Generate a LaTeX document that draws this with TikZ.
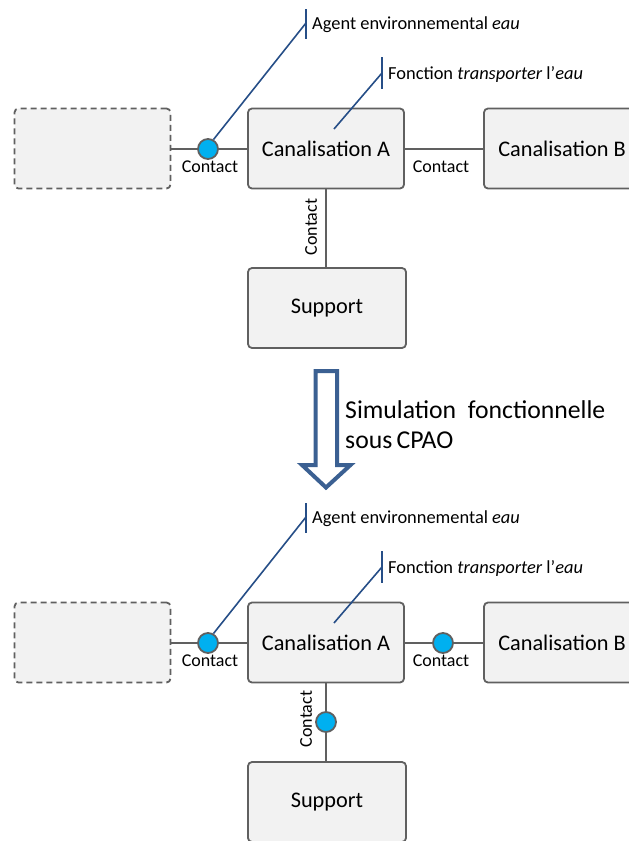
\documentclass[tikz,border=0pt]{standalone}
\usepackage{fontspec}
\setmainfont{Carlito}
\definecolor{boxfill}{RGB}{242,242,242}
\definecolor{boxline}{RGB}{96,96,96}
\definecolor{contactblue}{RGB}{0,176,240}
\definecolor{callout}{RGB}{38,78,135}
\definecolor{arrowblue}{RGB}{59,96,146}
\tikzset{
  blk/.style={draw=boxline, fill=boxfill, line width=1.8pt, rounded corners=4pt, minimum width=156pt, minimum height=80pt, font=\fontsize{22.3}{26}\selectfont, inner sep=0pt},
  ghost/.style={blk, dashed, dash pattern=on 6pt off 4pt},
  link/.style={draw=boxline, line width=1.8pt},
  dot/.style={circle, draw=boxline, fill=contactblue, line width=1.8pt, minimum size=20pt, inner sep=0pt},
  lbl/.style={font=\fontsize{18}{21}\selectfont, inner sep=0pt},
  call/.style={draw=callout, line width=1.6pt},
  calltext/.style={font=\fontsize{18.4}{21}\selectfont, inner sep=0pt, anchor=base west},
}
\begin{document}
\begin{tikzpicture}[x=1pt,y=-1pt]
\useasboundingbox (0,0) rectangle (629,841);
\clip (0,0) rectangle (629,841);
% ===== top =====
\node[ghost] (g1) at (92.5,148.5) {};
\node[blk] (a1) at (326,148.5) {Canalisation A};
\node[blk] (b1) at (562,148.5) {Canalisation B};
\node[blk, minimum width=158pt] (s1) at (327,308) {Support};
\draw[link] (g1.east |- 0,149) -- (a1.west |- 0,149);
\draw[link] (a1.east |- 0,149) -- (b1.west |- 0,149);
\draw[link] (a1.south -| 326,0) -- (s1.north -| 326,0);
\node[dot] (c1) at (208,149) {};
\node[lbl] (l1) at (210,167) {Contact};
\node[lbl] (l2) at (441,167) {Contact};
\node[lbl, rotate=90] (l3) at (311,227) {Contact};
% callouts
\coordinate (k1) at (306,23);
\coordinate (k1t) at (306,9);
\coordinate (k1b) at (306,39);
\draw[call] (c1.60) -- (k1);
\draw[call] (k1t) -- (k1b);
\node[calltext] (t1) at (312,29) {Agent environnemental \textit{eau}};
\coordinate (f1s) at (334,129);
\coordinate (f1) at (382,73);
\coordinate (f1t) at (382,57);
\coordinate (f1b) at (382,89);
\draw[call] (f1s) -- (f1);
\draw[call] (f1t) -- (f1b);
\node[calltext] (t2) at (388,79) {Fonction \textit{transporter} l’\textit{eau}};
% ===== arrow =====
\draw[draw=arrowblue, fill=white, line width=4pt, line join=miter]
  (315.5,371) -- (337,371) -- (337,465) -- (350.5,465) -- (326,487.5) -- (302,465) -- (315.5,465) -- cycle;
\node[font=\fontsize{25.7}{30}\selectfont, anchor=base west, align=left, inner sep=0pt] (sim) at (345,418) {Simulation\ \ fonctionnelle};
\node[font=\fontsize{25.7}{30}\selectfont, anchor=base west, align=left, inner sep=0pt] (sim2) at (345,448) {sous\,CPAO};
% ===== bottom =====
\node[ghost] (g2) at (92.5,642.5) {};
\node[blk] (a2) at (326,642.5) {Canalisation A};
\node[blk] (b2) at (562,642.5) {Canalisation B};
\node[blk, minimum width=158pt] (s2) at (327,802) {Support};
\draw[link] (g2.east |- 0,643) -- (a2.west |- 0,643);
\draw[link] (a2.east |- 0,643) -- (b2.west |- 0,643);
\draw[link] (a2.south -| 326,0) -- (s2.north -| 326,0);
\node[dot] (c2) at (208,643) {};
\node[dot] (c3) at (443,643) {};
\node[dot] (c4) at (326,722) {};
\node[lbl] (l4) at (210,661) {Contact};
\node[lbl] (l5) at (441,661) {Contact};
\node[lbl, rotate=90] (l6) at (306,719) {Contact};
\coordinate (k2) at (306,517);
\coordinate (k2t) at (306,503);
\coordinate (k2b) at (306,533);
\draw[call] (c2.60) -- (k2);
\draw[call] (k2t) -- (k2b);
\node[calltext] (t3) at (312,523) {Agent environnemental \textit{eau}};
\coordinate (f2s) at (334,623);
\coordinate (f2) at (382,567);
\coordinate (f2t) at (382,551);
\coordinate (f2b) at (382,583);
\draw[call] (f2s) -- (f2);
\draw[call] (f2t) -- (f2b);
\node[calltext] (t4) at (388,573) {Fonction \textit{transporter} l’\textit{eau}};
\end{tikzpicture}
\end{document}
